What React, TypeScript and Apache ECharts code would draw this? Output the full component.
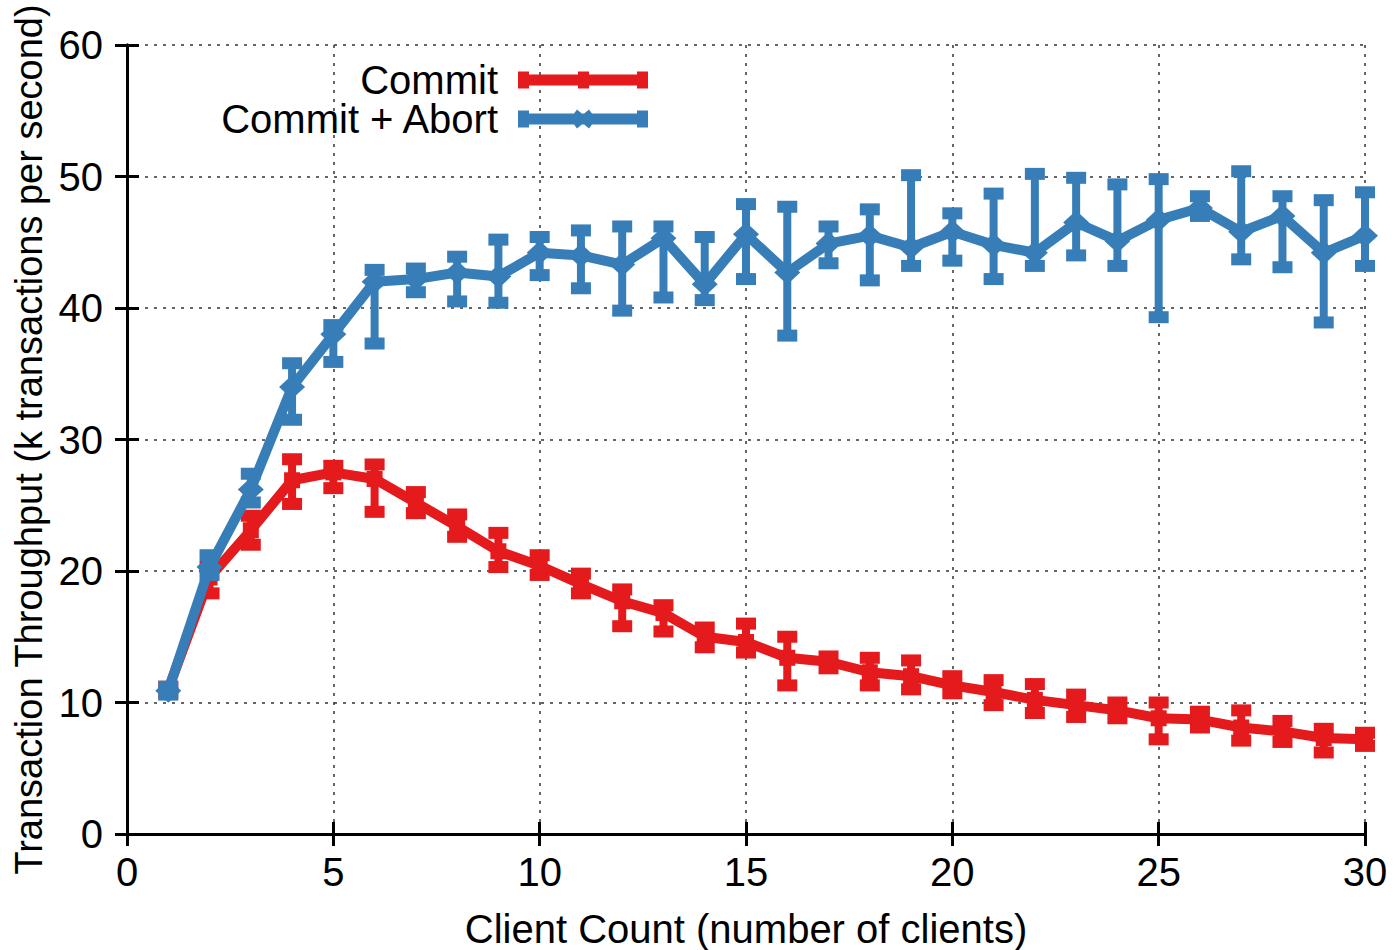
import React, { useEffect, useRef } from "react";
import * as echarts from "echarts";

const clients = [1, 2, 3, 4, 5, 6, 7, 8, 9, 10, 11, 12, 13, 14, 15, 16, 17, 18, 19, 20, 21, 22, 23, 24, 25, 26, 27, 28, 29, 30];

const commit = [11.0, 19.5, 23.1, 26.9, 27.5, 27.0, 25.2, 23.4, 21.5, 20.4, 19.0, 17.7, 16.8, 15.0, 14.6, 13.4, 13.1, 12.3, 12.0, 11.3, 10.8, 10.2, 9.8, 9.4, 8.8, 8.7, 8.1, 7.8, 7.3, 7.2];
const commitLow = [10.7, 18.3, 22.0, 25.1, 26.3, 24.5, 24.4, 22.6, 20.3, 19.7, 18.3, 15.8, 15.4, 14.2, 13.8, 11.3, 12.6, 11.3, 11.0, 10.7, 9.8, 9.2, 8.9, 8.8, 7.2, 8.1, 7.1, 7.0, 6.2, 6.7];
const commitHigh = [11.2, 20.3, 24.2, 28.5, 28.0, 28.1, 26.0, 24.3, 22.9, 21.2, 19.8, 18.6, 17.4, 15.7, 16.0, 15.0, 13.5, 13.4, 13.2, 12.0, 11.7, 11.4, 10.6, 10.0, 10.0, 9.3, 9.4, 8.6, 8.0, 7.7];

const commitAbort = [10.9, 20.3, 26.2, 34.0, 38.0, 42.0, 42.2, 42.7, 42.4, 44.2, 44.0, 43.3, 45.3, 41.8, 45.6, 42.7, 44.9, 45.5, 44.6, 45.8, 44.8, 44.2, 46.5, 45.1, 46.7, 47.6, 45.8, 47.0, 44.2, 45.5];
const commitAbortLow = [10.6, 19.7, 25.2, 31.5, 35.9, 37.3, 41.2, 40.5, 40.4, 42.5, 41.5, 39.8, 40.8, 40.6, 42.2, 37.9, 43.4, 42.1, 43.2, 43.6, 42.2, 43.2, 44.0, 43.2, 39.3, 47.0, 43.7, 43.1, 38.9, 43.2];
const commitAbortHigh = [11.2, 21.2, 27.4, 35.8, 38.7, 42.9, 43.0, 43.9, 45.2, 45.4, 45.9, 46.2, 46.2, 45.4, 47.9, 47.7, 46.2, 47.5, 50.1, 47.2, 48.7, 50.2, 49.9, 49.4, 49.8, 48.5, 50.4, 48.5, 48.2, 48.8];

const xTicks = { min: 0, max: 30, interval: 5 };
const yTicks = { min: 0, max: 60, interval: 10 };

const RED = "#e41a1c";
const BLUE = "#377eb8";
const FONT = "'Liberation Sans', Arial, Helvetica, sans-serif";

const redIcon = "path://M0,3H130V14H0Z M0,0H11V17H0Z M119,0H130V17H119Z M60,0H71V17H60Z";
const blueIcon =
  "path://M0,7H130V18H0Z M0,4H11V21H0Z M119,4H130V21H119Z M52,12.5L59,3L65,8L71,3L78,12.5L71,22L65,17L59,22Z";

function errorSeries(name: string, low: number[], high: number[], color: string, z: number) {
  return {
    name,
    type: "custom",
    z,
    clip: false,
    encode: { x: 0, y: [1, 2] },
    data: clients.map((c, i) => [c, low[i], high[i]]),
    renderItem: (_params: any, api: any) => {
      const x = api.value(0);
      const pLo = api.coord([x, api.value(1)]);
      const pHi = api.coord([x, api.value(2)]);
      const cw = 20;
      const ch = 12;
      return {
        type: "group",
        children: [
          {
            type: "line",
            shape: { x1: pLo[0], y1: pLo[1], x2: pHi[0], y2: pHi[1] },
            style: { stroke: color, lineWidth: 8 },
          },
          {
            type: "rect",
            shape: { x: pHi[0] - cw / 2, y: pHi[1] - ch / 2, width: cw, height: ch },
            style: { fill: color },
          },
          {
            type: "rect",
            shape: { x: pLo[0] - cw / 2, y: pLo[1] - ch / 2, width: cw, height: ch },
            style: { fill: color },
          },
        ],
      };
    },
  };
}

const splitLine = {
  show: true,
  lineStyle: { color: "#333", width: 1.5, type: [3, 6] },
};

export default function App() {
  const ref = useRef<HTMLDivElement>(null);
  useEffect(() => {
    if (!ref.current) return;
    const chart = echarts.init(ref.current, null, { renderer: "svg" });
    const axisLine = { show: true, lineStyle: { color: "#000", width: 3 } };
    const axisTick = { show: true, inside: true, length: 12, lineStyle: { color: "#000", width: 3 } };
    const legendText = { fontSize: 40, color: "#000", fontFamily: FONT, lineHeight: 38, padding: [0, 15, 0, 0] };
    chart.setOption({
      animation: false,
      backgroundColor: "#fff",
      textStyle: { fontFamily: FONT },
      grid: { left: 127, top: 45, right: 33, bottom: 116, containLabel: false, outerBoundsMode: "none" },
      legend: [
        {
          data: [{ name: "Commit", icon: redIcon }],
          right: 750,
          top: 60,
          padding: 0,
          align: "right",
          itemWidth: 130,
          itemHeight: 17,
          selectedMode: false,
          textStyle: legendText,
        },
        {
          data: [{ name: "Commit + Abort", icon: blueIcon }],
          right: 750,
          top: 99,
          padding: 0,
          align: "right",
          itemWidth: 130,
          itemHeight: 25,
          selectedMode: false,
          textStyle: legendText,
        },
      ],
      xAxis: [
        {
          type: "value",
          position: "bottom",
          ...xTicks,
          axisLine,
          axisTick,
          splitLine,
          axisLabel: { fontSize: 40, color: "#000", margin: 18, fontFamily: FONT },
          name: "Client Count (number of clients)",
          nameLocation: "middle",
          nameGap: 75,
          nameTextStyle: { fontSize: 40, color: "#000", fontFamily: FONT },
        },
        {
          type: "value",
          position: "top",
          ...xTicks,
          axisLine,
          axisTick,
          splitLine: { show: false },
          axisLabel: { show: false },
        },
      ],
      yAxis: [
        {
          type: "value",
          position: "left",
          ...yTicks,
          axisLine,
          axisTick,
          splitLine,
          axisLabel: { fontSize: 40, color: "#000", margin: 24, fontFamily: FONT },
          name: "Transaction Throughput (k transactions per second)",
          nameLocation: "middle",
          nameGap: 73,
          nameTextStyle: { fontSize: 38, color: "#000", fontFamily: FONT },
        },
        {
          type: "value",
          position: "right",
          ...yTicks,
          axisLine,
          axisTick,
          splitLine: { show: false },
          axisLabel: { show: false },
        },
      ],
      series: [
        errorSeries("Commit error", commitLow, commitHigh, RED, 2),
        {
          name: "Commit",
          type: "line",
          z: 3,
          clip: false,
          data: clients.map((c, i) => [c, commit[i]]),
          lineStyle: { color: RED, width: 10 },
          itemStyle: { color: RED },
          symbol: "rect",
          symbolSize: 16,
          showSymbol: true,
        },
        errorSeries("Commit + Abort error", commitAbortLow, commitAbortHigh, BLUE, 4),
        {
          name: "Commit + Abort",
          type: "line",
          z: 5,
          clip: false,
          data: clients.map((c, i) => [c, commitAbort[i]]),
          lineStyle: { color: BLUE, width: 10 },
          itemStyle: { color: BLUE },
          symbol: "diamond",
          symbolSize: [26, 24],
          showSymbol: true,
        },
      ],
    });
    return () => chart.dispose();
  }, []);
  return (
    <div
      ref={ref}
      style={{ position: "fixed", left: 0, top: 0, width: 1398, height: 950, background: "#fff" }}
    />
  );
}
